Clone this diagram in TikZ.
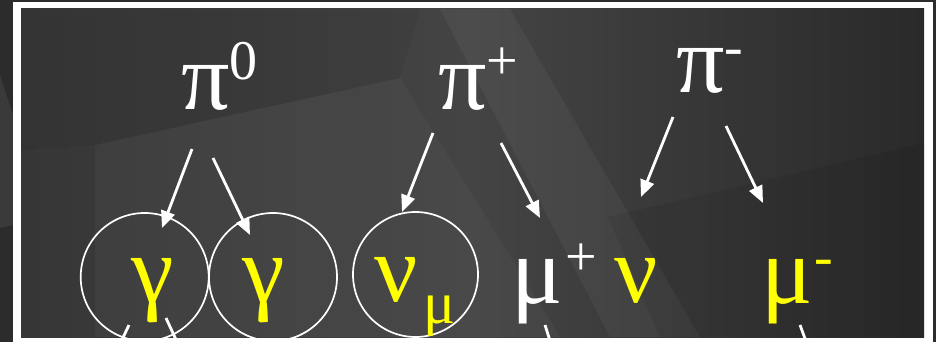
\documentclass[tikz,border=0pt]{standalone}
\usepackage{fontspec}
\setmainfont{Liberation Serif}
\usetikzlibrary{arrows.meta}
\definecolor{bgout}{HTML}{2C2C2C}
\definecolor{bgl}{HTML}{363636}
\definecolor{bgm}{HTML}{444444}
\definecolor{bgr}{HTML}{2A2A2A}
\definecolor{ylw}{HTML}{FFFF00}
\newcommand{\supr}[2]{\raisebox{#1}{\fontsize{56}{56}\selectfont #2}}
\tikzset{
  big/.style={font=\fontsize{96}{96}\selectfont, inner sep=0pt, anchor=base west},
  wt/.style={big, text=white},
  yt/.style={big, text=ylw},
  ring/.style={draw=white, line width=1.7pt, circle, inner sep=0pt},
  arr/.style={draw=white, line width=2.8pt, -{Triangle[length=17pt,width=14pt]}},
  stub/.style={draw=white, line width=2.8pt},
}
\begin{document}
\begin{tikzpicture}[x=1pt,y=-1pt]
\useasboundingbox (0,0) rectangle (936,342);
% outer background
\fill[bgout] (0,0) rectangle (936,342);
\fill[white,opacity=0.07] (0,75) -- (13,115) -- (13,225) -- (0,228) -- cycle;
% white frame
\fill[white] (13,2) rectangle (933,342);
\begin{scope}
\clip (21,9) rectangle (924,337);
\shade[left color=bgl, right color=bgr, middle color=bgm] (21,9) rectangle (924,337);
\fill[black,opacity=0.05] (21,9) -- (420,9) -- (400,78) -- (95,145) -- (21,150) -- cycle;
\fill[white,opacity=0.03] (95,145) -- (400,78) -- (560,337) -- (95,337) -- cycle;
\fill[white,opacity=0.045] (440,9) -- (510,9) -- (700,337) -- (610,337) -- cycle;
\fill[black,opacity=0.07] (608,217) -- (924,143) -- (924,337) -- (660,337) -- cycle;
% circles
\node[ring, minimum size=128pt] (c1) at (144.7,277) {};
\node[ring, minimum size=128pt] (c2) at (273,277) {};
\node[ring, minimum size=125pt] (c3) at (415.5,274.5) {};
% stubs leaving the bottom
\coordinate (s1a) at (129,325); \coordinate (s1b) at (120,344);
\coordinate (s2a) at (166,318); \coordinate (s2b) at (178,344);
\coordinate (s3a) at (545,325); \coordinate (s3b) at (551,344);
\coordinate (s4a) at (800,325); \coordinate (s4b) at (807,344);
\draw[stub] (s1a) -- (s1b);
\draw[stub] (s2a) -- (s2b);
\draw[stub] (s3a) -- (s3b);
\draw[stub] (s4a) -- (s4b);
\end{scope}
% particle labels
\node[wt] (pi0) at (181,110) {π\supr{30pt}{0}};
\node[wt] (pip) at (438,110) {π\supr{30pt}{+}};
\node[wt] (pim) at (676,93) {π\supr{28pt}{-}};
\node[yt] (g1) at (131,302) {γ};
\node[yt] (g2) at (242,302) {γ};
\node[yt] (numu) at (374,301) {ν\kern6pt\raisebox{-22pt}{\fontsize{60}{60}\selectfont μ}};
\node[wt] (mup) at (511,303) {μ\kern3pt\supr{28pt}{+}};
\node[yt] (nu) at (614,302) {ν};
\node[yt] (mum) at (761,303) {μ\kern2pt\supr{28pt}{-}};
% arrows
\coordinate (a1s) at (192,149); \coordinate (a1e) at (162,228);
\coordinate (a2s) at (213,158); \coordinate (a2e) at (250,235);
\coordinate (a3s) at (433,133); \coordinate (a3e) at (402,212);
\coordinate (a4s) at (501,143); \coordinate (a4e) at (540,218);
\coordinate (a5s) at (673,117); \coordinate (a5e) at (641,197);
\coordinate (a6s) at (726,126); \coordinate (a6e) at (763,203);
\draw[arr] (a1s) -- (a1e);
\draw[arr] (a2s) -- (a2e);
\draw[arr] (a3s) -- (a3e);
\draw[arr] (a4s) -- (a4e);
\draw[arr] (a5s) -- (a5e);
\draw[arr] (a6s) -- (a6e);
\end{tikzpicture}
\end{document}
